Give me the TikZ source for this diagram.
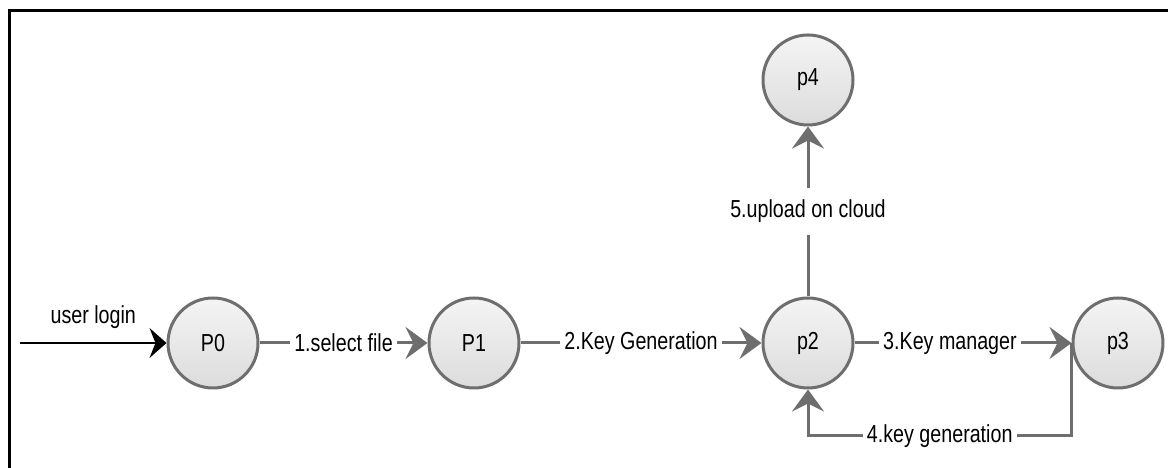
\documentclass[tikz,border=0pt]{standalone}
\usepackage{fontspec}
\setmainfont{Liberation Sans}[FakeStretch=0.8]
\usetikzlibrary{positioning, arrows.meta, calc}
\definecolor{dfdline}{HTML}{6E6E6E}
\definecolor{dfdtop}{HTML}{F4F4F4}
\definecolor{dfdbot}{HTML}{DCDCDC}

\begin{document}
\begin{tikzpicture}[
    every node/.style={font=\fontsize{7}{8}\selectfont},
    proc/.style={circle, draw=dfdline, line width=0.03cm, top color=dfdtop, bottom color=dfdbot, minimum size=0.9cm, inner sep=0pt},
    flow/.style={draw=dfdline, line width=0.03cm, -{Stealth[length=0.22cm, width=0.32cm, inset=0.08cm]}},
    lbl/.style={fill=white, inner xsep=0.04cm, inner ysep=0.02cm},
  ]
  \useasboundingbox (0,0) rectangle (11.68,4.68);
  \draw[line width=0.03cm] (0.095,0) -- (0.095,4.575) -- (11.68,4.575);

  \node[proc] (p0) at (2.13,1.25) {P0};
  \node[proc] (p1) at (4.74,1.25) {P1};
  \node[proc] (p2) at (8.08,1.25) {p2};
  \node[proc] (p3) at (11.18,1.25) {p3};
  \node[proc] (p4) at (8.08,3.88) {p4};
  \coordinate (start) at (0.2,1.25);

  \draw[line width=0.017cm, -{Stealth[length=0.17cm, width=0.3cm, inset=0.06cm]}] (start) -- (p0)
    node[midway, above=0.02cm] {user login};
  \draw[flow] (p0) -- node[lbl] {1.select file} (p1);
  \draw[flow] (p1) -- node[lbl] {2.Key Generation} (p2);
  \draw[flow] (p2) -- node[lbl, pos=0.44] {3.Key manager} (p3);
  \draw[flow] (p3.west) -- ++(0,-0.93) -| node[lbl, pos=0.25] {4.key generation} (p2.south);
  \draw[flow] (p2) -- node[lbl, inner ysep=0.12cm] {5.upload on cloud} (p4);
\end{tikzpicture}
\end{document}
